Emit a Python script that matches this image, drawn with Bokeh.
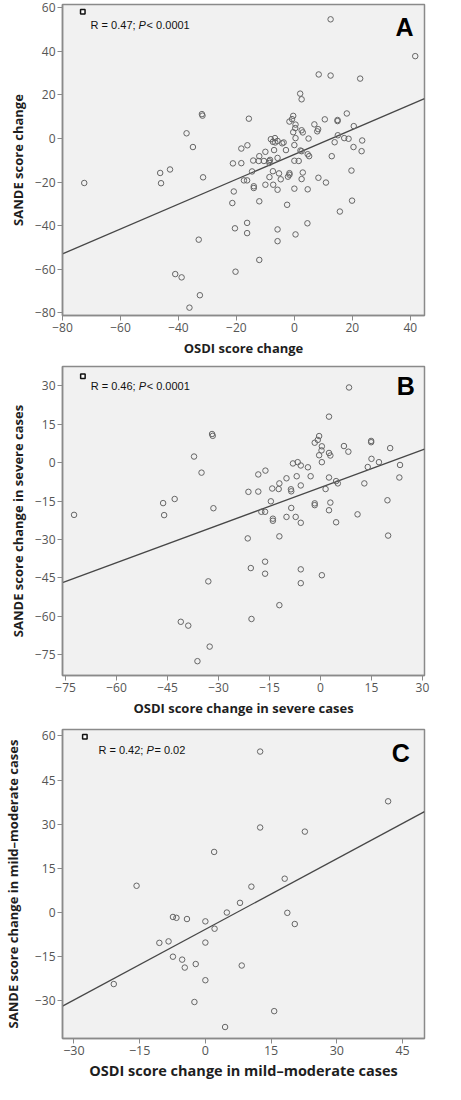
from bokeh.plotting import figure
from bokeh.layouts import column
from bokeh.models import Label, Range1d, FixedTicker
from bokeh.embed import file_html
from bokeh.resources import INLINE

# ---------------- data ----------------
# Severe cases (panel B)
severe_osdi = [-31.9, -31.7, -37.2, -35.0, -46.3, -42.9, -46.0, -72.5, -31.5,
               -33.0, -41.1, -38.9, -32.6, -36.2,
               -5.8, 4.6, -21.4, -12.1, 19.9, -16.3, -20.5, -16.3, -5.8, 0.4, -5.8, -12.1, -20.3,
               8.4, 2.5, 14.9, 14.9, -0.4, -0.8, -1.7, 0.4, 0.3, -0.4, 2.5, 2.9, 0.4, 6.9, 8.2,
               20.5, 15.0, 17.2, 13.9, 23.4, 23.2, 12.9, 19.7, 10.9, -8.1, -6.7, -5.8, -3.7,
               -18.3, -16.2, -10.0, -7.0, -2.9, 2.5, -12.1, -14.2, -12.3, -8.7, -8.6, -5.8,
               -21.2, -18.3, 1.5, 4.6, 5.1, -14.6, -8.6, -1.7, -1.7, 2.9, 2.5, -17.4, -16.3,
               -14.0, -14.0, -10.0, -7.3]
severe_sande = [11.2, 10.5, 2.4, -3.9, -15.8, -14.2, -20.5, -20.4, -17.8,
                -46.4, -62.2, -63.7, -71.9, -77.6,
                -23.5, -23.3, -29.6, -28.8, -28.5, -38.7, -41.2, -43.4, -41.7, -44.0, -47.1, -55.7, -61.1,
                29.4, 18.0, 8.5, 8.0, 10.4, 8.9, 7.8, 6.4, 4.8, 2.9, 3.8, 2.8, 0.2, 6.5, 4.3,
                5.7, 1.5, 0.2, -1.7, -0.9, -5.8, -8.1, -14.7, -20.2, -0.3, 0.2, -1.1, -1.8,
                -4.6, -3.1, -6.1, -5.3, -5.3, -5.8, -8.1, -10.1, -10.3, -10.4, -11.2, -8.9,
                -11.4, -11.3, -10.3, -7.2, -8.1, -15.1, -17.7, -15.9, -16.6, -15.6, -18.6, -19.2, -19.2,
                -21.9, -22.7, -21.2, -21.2]

# Mild-moderate cases (panel C)
mild_osdi = [12.5, 41.7, 12.5, 22.7, 2.0, -15.7, 10.5, 18.1,
             7.9, 4.9, 18.7, 20.4, -7.4, -6.6, -4.2, 0.0, 2.1, -10.5, -8.4, 0.0,
             -7.4, -5.3, -4.7, -2.2, 8.3, 0.0, -20.9, -2.5, 15.7, 4.5]
mild_sande = [54.7, 37.8, 28.9, 27.5, 20.6, 9.1, 8.8, 11.5,
              3.3, 0.0, -0.1, -3.9, -1.5, -1.8, -2.2, -3.0, -5.5, -10.3, -9.8, -10.2,
              -15.0, -16.0, -18.7, -17.5, -18.0, -23.0, -24.3, -30.4, -33.5, -38.9]

# All cases (panel A)
all_osdi = severe_osdi + mild_osdi
all_sande = severe_sande + mild_sande

# Fit lines (intercept, slope)
fit_intercept = {"A": -7.3, "B": -9.7, "C": -5.7}
fit_slope = {"A": 0.57, "B": 0.49, "C": 0.80}

stat_r = {"A": "0.47", "B": "0.46", "C": "0.42"}
stat_p = {"A": "< 0.0001", "B": "< 0.0001", "C": "= 0.02"}

x_labels = {"A": "OSDI score change",
            "B": "OSDI score change in severe cases",
            "C": "OSDI score change in mild\u2013moderate cases"}
y_labels = {"A": "SANDE score change",
            "B": "SANDE score change in severe cases",
            "C": "SANDE score change in mild\u2013moderate cases"}

x_ticks = {"A": list(range(-80, 41, 20)), "B": list(range(-75, 31, 15)), "C": list(range(-30, 46, 15))}
y_ticks = {"A": list(range(-80, 61, 20)), "B": list(range(-75, 31, 15)), "C": list(range(-30, 61, 15))}

# ---------------- styling / layout ----------------
TICK_FONT = "Open Sans"
LAB_FONT = "Open Sans"
ANN_FONT = "Liberation Sans"


def make_panel(key, xs, ys, xr, yr, height, mb_left, mb_right, mb_top, mb_bottom,
               y_label_standoff, sq, txt, letter, xtick_size="12px", xlab_size="13px",
               xlab_standoff=4):
    p = figure(width=445, height=height, output_backend="svg", toolbar_location=None,
               x_range=Range1d(*xr), y_range=Range1d(*yr),
               min_border_left=mb_left, min_border_right=mb_right,
               min_border_top=mb_top, min_border_bottom=mb_bottom)
    p.background_fill_color = "#f1f1f1"
    p.border_fill_color = "white"
    p.outline_line_color = "#8a8a8a"
    p.outline_line_width = 1.5
    p.xgrid.visible = False
    p.ygrid.visible = False

    for ax, ticks, lab in ((p.xaxis[0], x_ticks[key], x_labels[key]),
                           (p.yaxis[0], y_ticks[key], y_labels[key])):
        ax.ticker = FixedTicker(ticks=ticks)
        ax.minor_tick_line_color = None
        ax.major_tick_in = 0
        ax.major_tick_out = 5
        ax.major_tick_line_color = "#8a8a8a"
        ax.axis_line_color = "#8a8a8a"
        ax.axis_line_width = 1.5
        ax.major_label_text_font = TICK_FONT
        ax.major_label_text_font_size = "12px"
        ax.major_label_text_color = "#555555"
        ax.major_label_standoff = 2
        ax.axis_label = lab
        ax.axis_label_text_font = LAB_FONT
        ax.axis_label_text_font_size = "13px"
        ax.axis_label_text_font_style = "bold"
        ax.axis_label_text_color = "#1e1e1e"
    p.xaxis[0].major_label_text_font_size = xtick_size
    p.xaxis[0].axis_label_text_font_size = xlab_size
    p.xaxis[0].axis_label_standoff = xlab_standoff
    p.yaxis[0].axis_label_standoff = y_label_standoff

    # fit line across the full x range
    lx = [xr[0], xr[1]]
    ly = [fit_intercept[key] + fit_slope[key] * v for v in lx]
    p.line(lx, ly, line_color="#474747", line_width=1.3)

    # data points
    p.scatter(xs, ys, marker="circle", size=5.5, fill_color=None,
              line_color="#666666", line_width=1)

    # legend square
    p.scatter([sq[0]], [sq[1]], marker="square", size=4.5, fill_color="white",
              line_color="#111111", line_width=1.5)

    # stats text with italic P
    common = dict(x=txt[0], y=txt[1], text_font=ANN_FONT, text_font_size="11px",
                  text_baseline="middle", text_color="#111111")
    p.add_layout(Label(text="R = %s; " % stat_r[key], **common))
    p.add_layout(Label(text="P", text_font_style="italic", x_offset=48, **common))
    p.add_layout(Label(text=stat_p[key], x_offset=56, **common))

    # panel letter
    p.add_layout(Label(x=letter[0], y=letter[1], text=key, text_font=ANN_FONT,
                       text_font_size="25px", text_font_style="bold",
                       text_align="center", text_baseline="middle", text_color="black"))
    return p


pA = make_panel("A", all_osdi, all_sande, (-80, 44.9), (-81.2, 61.5), 359,
                47, 1, 4, 43, 5, (-73.0, 58.2), (-70.3, 52.0), (38.0, 51.0))
pB = make_panel("B", severe_osdi, severe_sande, (-75.9, 30.6), (-83.2, 37.6), 360,
                47, 1, 7, 41, 5, (-69.9, 33.8), (-67.6, 29.8), (25.1, 29.8))
pC = make_panel("C", mild_osdi, mild_sande, (-32.6, 50.0), (-42.8, 62.2), 365,
                54, 21, 10, 46, 10, (-27.5, 59.7), (-24.4, 55.2), (44.6, 54.3),
                xtick_size="12.5px", xlab_size="14.5px", xlab_standoff=3)

layout = column(pA, pB, pC, spacing=0)

open("out.html", "w").write(file_html(layout, INLINE))
